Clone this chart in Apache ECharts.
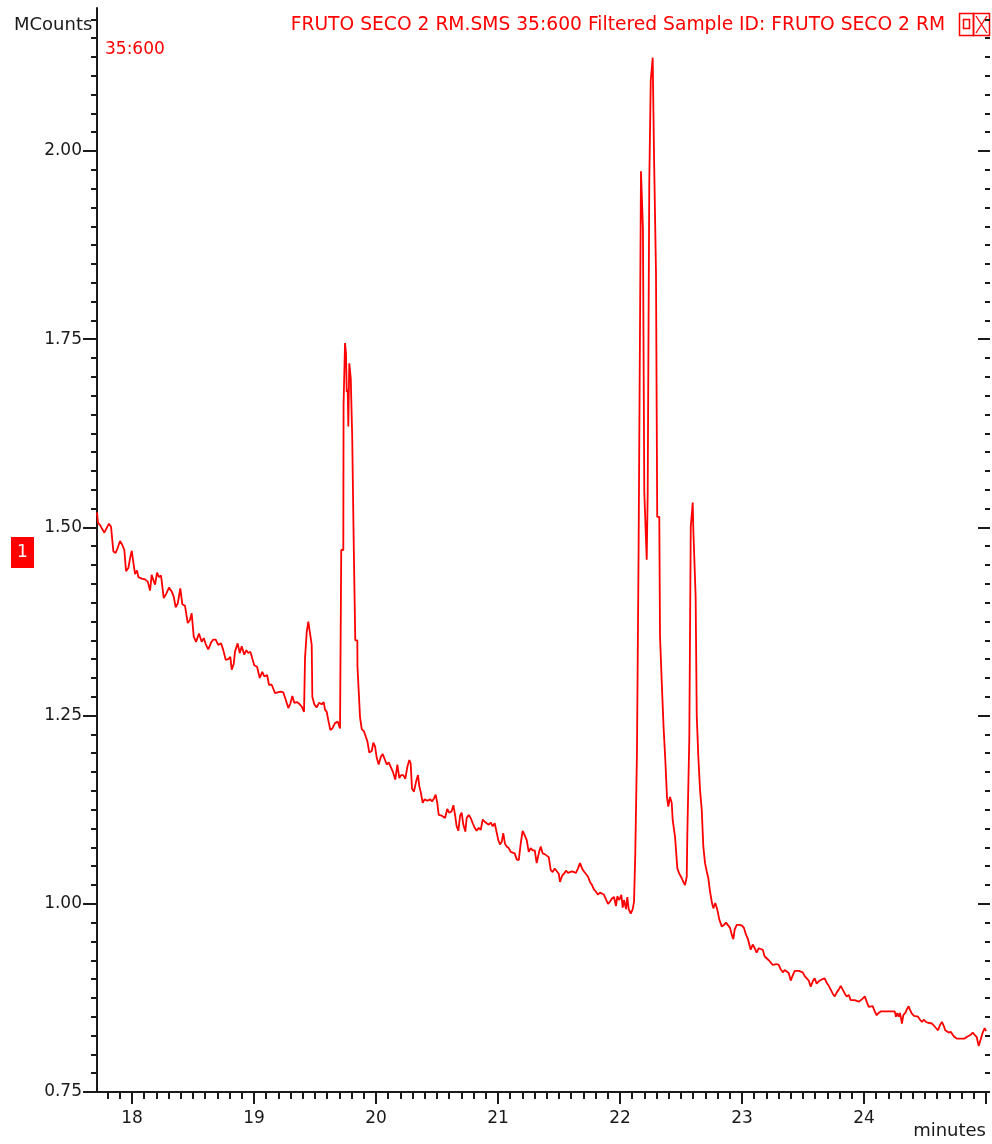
<!DOCTYPE html>
<html>
<head>
<meta charset="utf-8">
<script src="https://cdn.jsdelivr.net/npm/echarts@6/dist/echarts.min.js"></script>
<style>
  html, body { margin: 0; padding: 0; background: #ffffff; }
  #chart { width: 992px; height: 1144px; }
</style>
</head>
<body>
<div id="chart"></div>
<script>
// Retention time (minutes) of each scan
const times = [
  17.713, 17.721, 17.738, 17.773, 17.811, 17.828, 17.847, 17.866, 17.883, 17.902,
  17.920, 17.937, 17.951, 17.970, 17.984, 17.998, 18.014, 18.025, 18.041, 18.052,
  18.080, 18.107, 18.129, 18.148, 18.161, 18.175, 18.189, 18.205, 18.221, 18.238,
  18.260, 18.281, 18.303, 18.325, 18.342, 18.358, 18.375, 18.396, 18.412, 18.434,
  18.457, 18.475, 18.489, 18.506, 18.525, 18.549, 18.571, 18.588, 18.604, 18.625,
  18.648, 18.666, 18.686, 18.707, 18.730, 18.748, 18.768, 18.789, 18.806, 18.817,
  18.834, 18.844, 18.866, 18.883, 18.899, 18.920, 18.937, 18.953, 18.970, 18.986,
  19.002, 19.025, 19.047, 19.068, 19.084, 19.107, 19.123, 19.145, 19.172, 19.194,
  19.216, 19.240, 19.260, 19.281, 19.298, 19.314, 19.330, 19.352, 19.375, 19.391,
  19.410, 19.418, 19.432, 19.445, 19.453, 19.467, 19.473, 19.478, 19.494, 19.514,
  19.533, 19.555, 19.571, 19.582, 19.596, 19.609, 19.625, 19.642, 19.664, 19.686,
  19.705, 19.715, 19.732, 19.734, 19.746, 19.754, 19.760, 19.768, 19.773, 19.781,
  19.793, 19.801, 19.805, 19.814, 19.816, 19.828, 19.830, 19.847, 19.848, 19.858,
  19.860, 19.869, 19.883, 19.902, 19.918, 19.929, 19.945, 19.965, 19.978, 19.992,
  20.006, 20.022, 20.039, 20.055, 20.071, 20.088, 20.104, 20.120, 20.137, 20.158,
  20.175, 20.191, 20.207, 20.224, 20.240, 20.257, 20.273, 20.284, 20.295, 20.311,
  20.328, 20.344, 20.355, 20.366, 20.383, 20.399, 20.420, 20.443, 20.459, 20.475,
  20.489, 20.502, 20.514, 20.539, 20.566, 20.584, 20.601, 20.620, 20.634, 20.648,
  20.661, 20.675, 20.689, 20.702, 20.716, 20.732, 20.743, 20.760, 20.776, 20.793,
  20.809, 20.825, 20.842, 20.858, 20.875, 20.891, 20.907, 20.924, 20.940, 20.957,
  20.973, 20.989, 21.002, 21.016, 21.030, 21.043, 21.057, 21.071, 21.088, 21.104,
  21.120, 21.137, 21.153, 21.170, 21.186, 21.202, 21.219, 21.235, 21.252, 21.268,
  21.284, 21.301, 21.317, 21.334, 21.350, 21.366, 21.383, 21.399, 21.416, 21.432,
  21.448, 21.465, 21.481, 21.498, 21.508, 21.525, 21.541, 21.557, 21.574, 21.590,
  21.607, 21.623, 21.639, 21.656, 21.672, 21.689, 21.705, 21.721, 21.738, 21.754,
  21.770, 21.787, 21.803, 21.820, 21.836, 21.852, 21.869, 21.885, 21.902, 21.918,
  21.934, 21.951, 21.967, 21.978, 21.994, 22.011, 22.022, 22.033, 22.049, 22.060,
  22.071, 22.088, 22.104, 22.115, 22.125, 22.137, 22.139, 22.150, 22.152, 22.164,
  22.172, 22.186, 22.188, 22.197, 22.199, 22.213, 22.219, 22.227, 22.240, 22.252,
  22.268, 22.279, 22.289, 22.295, 22.301, 22.305, 22.322, 22.328, 22.340, 22.342,
  22.355, 22.357, 22.369, 22.371, 22.383, 22.385, 22.396, 22.410, 22.424, 22.432,
  22.447, 22.451, 22.466, 22.470, 22.486, 22.506, 22.519, 22.533, 22.547, 22.552,
  22.564, 22.568, 22.578, 22.580, 22.588, 22.596, 22.601, 22.617, 22.620, 22.627,
  22.629, 22.640, 22.642, 22.654, 22.656, 22.670, 22.683, 22.697, 22.711, 22.724,
  22.738, 22.754, 22.765, 22.781, 22.798, 22.814, 22.834, 22.852, 22.869, 22.885,
  22.902, 22.918, 22.929, 22.940, 22.957, 22.978, 23.000, 23.016, 23.033, 23.049,
  23.060, 23.071, 23.088, 23.104, 23.120, 23.137, 23.153, 23.170, 23.186, 23.202,
  23.219, 23.235, 23.252, 23.268, 23.284, 23.301, 23.317, 23.334, 23.350, 23.366,
  23.383, 23.399, 23.416, 23.432, 23.448, 23.465, 23.481, 23.498, 23.514, 23.530,
  23.547, 23.563, 23.580, 23.596, 23.612, 23.629, 23.645, 23.661, 23.678, 23.694,
  23.711, 23.727, 23.743, 23.760, 23.776, 23.793, 23.809, 23.825, 23.842, 23.858,
  23.875, 23.891, 23.907, 23.924, 23.940, 23.957, 23.973, 23.989, 24.006, 24.022,
  24.039, 24.055, 24.071, 24.088, 24.104, 24.120, 24.137, 24.153, 24.170, 24.186,
  24.202, 24.219, 24.235, 24.252, 24.262, 24.273, 24.284, 24.295, 24.311, 24.322,
  24.339, 24.355, 24.366, 24.377, 24.393, 24.410, 24.426, 24.443, 24.459, 24.475,
  24.492, 24.508, 24.525, 24.541, 24.557, 24.574, 24.590, 24.607, 24.623, 24.639,
  24.656, 24.666, 24.678, 24.694, 24.711, 24.727, 24.743, 24.760, 24.776, 24.793,
  24.809, 24.825, 24.842, 24.858, 24.875, 24.891, 24.907, 24.924, 24.940, 24.957,
  24.973, 24.989, 25.000
];

// Ion current of m/z 35:600 (MCounts) at each scan
const counts = [
  1.520, 1.506, 1.503, 1.493, 1.505, 1.501, 1.468, 1.466, 1.473, 1.482,
  1.477, 1.470, 1.442, 1.446, 1.459, 1.469, 1.450, 1.438, 1.443, 1.434,
  1.432, 1.431, 1.428, 1.416, 1.437, 1.430, 1.424, 1.440, 1.434, 1.436,
  1.406, 1.412, 1.420, 1.415, 1.408, 1.394, 1.399, 1.419, 1.398, 1.396,
  1.373, 1.377, 1.386, 1.355, 1.348, 1.359, 1.348, 1.353, 1.345, 1.338,
  1.347, 1.351, 1.351, 1.344, 1.346, 1.337, 1.324, 1.325, 1.328, 1.311,
  1.319, 1.335, 1.346, 1.333, 1.342, 1.331, 1.337, 1.333, 1.335, 1.326,
  1.317, 1.315, 1.300, 1.308, 1.302, 1.304, 1.291, 1.291, 1.280, 1.281,
  1.282, 1.281, 1.271, 1.260, 1.266, 1.276, 1.267, 1.268, 1.265, 1.262,
  1.255, 1.326, 1.361, 1.375, 1.366, 1.368, 1.344, 1.275, 1.265, 1.261,
  1.267, 1.265, 1.268, 1.258, 1.255, 1.244, 1.231, 1.233, 1.240, 1.242,
  1.233, 1.470, 1.470, 1.663, 1.745, 1.731, 1.680, 1.683, 1.634, 1.718,
  1.698, 1.698, 1.620, 1.618, 1.492, 1.492, 1.350, 1.350, 1.315, 1.313,
  1.277, 1.248, 1.232, 1.229, 1.227, 1.216, 1.201, 1.203, 1.214, 1.209,
  1.194, 1.185, 1.195, 1.199, 1.200, 1.185, 1.188, 1.186, 1.176, 1.165,
  1.185, 1.167, 1.171, 1.171, 1.166, 1.182, 1.191, 1.187, 1.153, 1.149,
  1.162, 1.171, 1.156, 1.149, 1.134, 1.139, 1.137, 1.139, 1.136, 1.140,
  1.145, 1.134, 1.118, 1.117, 1.114, 1.126, 1.121, 1.123, 1.131, 1.118,
  1.103, 1.097, 1.117, 1.121, 1.105, 1.096, 1.114, 1.118, 1.114, 1.107,
  1.101, 1.097, 1.101, 1.098, 1.112, 1.109, 1.108, 1.105, 1.108, 1.103,
  1.107, 1.106, 1.085, 1.079, 1.082, 1.094, 1.080, 1.076, 1.074, 1.069,
  1.067, 1.067, 1.059, 1.058, 1.080, 1.097, 1.091, 1.085, 1.069, 1.074,
  1.071, 1.071, 1.054, 1.067, 1.076, 1.067, 1.066, 1.066, 1.062, 1.045,
  1.042, 1.047, 1.047, 1.040, 1.029, 1.037, 1.040, 1.044, 1.041, 1.043,
  1.043, 1.041, 1.041, 1.047, 1.054, 1.047, 1.043, 1.041, 1.036, 1.029,
  1.025, 1.019, 1.016, 1.012, 1.015, 1.016, 1.012, 1.006, 1.000, 1.003,
  1.007, 1.009, 0.997, 1.010, 1.005, 1.012, 0.995, 1.005, 0.993, 1.009,
  0.993, 0.987, 0.993, 1.003, 1.065, 1.065, 1.201, 1.201, 1.461, 1.461,
  1.973, 1.973, 1.896, 1.896, 1.547, 1.547, 1.457, 1.545, 1.959, 2.094,
  2.124, 1.992, 1.992, 1.838, 1.838, 1.514, 1.514, 1.355, 1.355, 1.295,
  1.295, 1.235, 1.235, 1.192, 1.192, 1.142, 1.129, 1.142, 1.134, 1.111,
  1.111, 1.089, 1.089, 1.047, 1.040, 1.034, 1.029, 1.025, 1.036, 1.094,
  1.094, 1.219, 1.219, 1.501, 1.503, 1.533, 1.497, 1.497, 1.408, 1.408,
  1.250, 1.250, 1.195, 1.195, 1.151, 1.125, 1.076, 1.054, 1.043, 1.034,
  1.016, 1.001, 0.994, 1.001, 0.992, 0.979, 0.970, 0.972, 0.975, 0.977,
  0.968, 0.958, 0.953, 0.966, 0.972, 0.972, 0.971, 0.968, 0.959, 0.953,
  0.946, 0.939, 0.946, 0.941, 0.935, 0.941, 0.943, 0.939, 0.930, 0.928,
  0.925, 0.926, 0.919, 0.917, 0.920, 0.919, 0.913, 0.909, 0.912, 0.914,
  0.908, 0.898, 0.905, 0.911, 0.913, 0.911, 0.912, 0.909, 0.904, 0.905,
  0.898, 0.890, 0.897, 0.901, 0.894, 0.897, 0.899, 0.900, 0.901, 0.895,
  0.891, 0.886, 0.881, 0.877, 0.882, 0.886, 0.891, 0.889, 0.881, 0.877,
  0.879, 0.872, 0.870, 0.872, 0.870, 0.870, 0.872, 0.874, 0.877, 0.870,
  0.863, 0.861, 0.864, 0.857, 0.852, 0.855, 0.857, 0.857, 0.857, 0.857,
  0.857, 0.857, 0.855, 0.857, 0.850, 0.855, 0.850, 0.855, 0.841, 0.852,
  0.855, 0.861, 0.864, 0.859, 0.854, 0.851, 0.852, 0.850, 0.846, 0.843,
  0.846, 0.843, 0.842, 0.840, 0.841, 0.838, 0.835, 0.832, 0.839, 0.843,
  0.837, 0.832, 0.832, 0.829, 0.830, 0.826, 0.823, 0.821, 0.823, 0.821,
  0.820, 0.821, 0.823, 0.823, 0.826, 0.829, 0.827, 0.823, 0.811, 0.820,
  0.829, 0.835, 0.831
];

// Axis ticks and labels
const xMajorTicks = [18, 19, 20, 21, 22, 23, 24, 25];
const xTickLabels = [18, 19, 20, 21, 22, 23, 24];
const yMajorTicks = [0.75, 1.00, 1.25, 1.50, 1.75, 2.00];

const xMinorTicks = [];
for (let i = 178; i < 250; i++) { if (i % 10 !== 0) xMinorTicks.push(i / 10); }
const yMinorTicks = [];
for (let i = 31; i <= 87; i++) { if (i % 10 !== 0) yMinorTicks.push(i * 0.025); }

const X_MIN = 17.713, X_MAX = 25.0;
const Y_MIN = 0.75, Y_MAX = 2.19;

const FONT = 'DejaVu Sans';
const INK = '#1a1a1a';
const RED = '#ff0000';

const axisLine = { show: true, onZero: false, lineStyle: { color: INK, width: 2 } };
const tickStyle = { color: INK, width: 2 };

function xAxisDef(ticks, len, withLine, labels) {
  return {
    type: 'value', min: X_MIN, max: X_MAX, position: 'bottom', gridIndex: 0,
    axisLine: withLine ? axisLine : { show: false },
    axisTick: { show: true, customValues: ticks, length: len, lineStyle: tickStyle },
    axisLabel: labels ? {
      show: true, customValues: labels, margin: 18,
      fontFamily: FONT, fontSize: 17, color: INK
    } : { show: false },
    splitLine: { show: false }
  };
}

function yAxisDef(pos, ticks, len, inside, withLine, labels, offset) {
  return {
    type: 'value', min: Y_MIN, max: Y_MAX, position: pos, gridIndex: 0, offset: offset || 0,
    axisLine: withLine ? axisLine : { show: false },
    axisTick: { show: true, inside: inside, customValues: ticks, length: len, lineStyle: tickStyle },
    axisLabel: labels ? {
      show: true, customValues: labels, margin: 15,
      formatter: v => v.toFixed(2),
      fontFamily: FONT, fontSize: 17, color: INK
    } : { show: false },
    splitLine: { show: false }
  };
}

const chart = echarts.init(document.getElementById('chart'), null, { renderer: 'canvas' });

chart.setOption({
  animation: false,
  backgroundColor: '#ffffff',
  grid: { left: 97, right: 6, top: 8, bottom: 52, containLabel: false },
  xAxis: [
    xAxisDef(xMajorTicks, 12, true, xTickLabels),
    xAxisDef(xMinorTicks, 7, false, null)
  ],
  yAxis: [
    yAxisDef('left', yMajorTicks, 14, false, true, yMajorTicks, 0),
    yAxisDef('left', yMinorTicks, 6, false, false, null, 0),
    yAxisDef('right', yMajorTicks, 12, true, false, null, 4),
    yAxisDef('right', yMinorTicks, 5, true, false, null, 4)
  ],
  series: [{
    type: 'line',
    xAxisIndex: 0,
    yAxisIndex: 0,
    data: times.map((t, i) => [t, counts[i]]),
    showSymbol: false,
    symbol: 'none',
    clip: true,
    lineStyle: { color: RED, width: 1.8 },
    emphasis: { disabled: true }
  }],
  graphic: [
    { type: 'text', x: 14, y: 25, style: { text: 'MCounts', font: '18px "' + FONT + '"', fill: INK, align: 'left', verticalAlign: 'middle' } },
    { type: 'text', x: 945, y: 25, style: { text: 'FRUTO SECO 2 RM.SMS 35:600 Filtered Sample ID: FRUTO SECO 2 RM', font: '18.7px "' + FONT + '"', fill: RED, align: 'right', verticalAlign: 'middle' } },
    { type: 'text', x: 105, y: 50, style: { text: '35:600', font: '17px "' + FONT + '"', fill: RED, align: 'left', verticalAlign: 'middle' } },
    { type: 'text', x: 986, y: 1131, style: { text: 'minutes', font: '18px "' + FONT + '"', fill: INK, align: 'right', verticalAlign: 'middle' } },
    // trace marker
    { type: 'rect', shape: { x: 11, y: 537, width: 23, height: 31 }, style: { fill: RED } },
    { type: 'text', x: 22.5, y: 552.5, style: { text: '1', font: '17px "' + FONT + '"', fill: '#ffffff', align: 'center', verticalAlign: 'middle' } },
    // window buttons
    { type: 'rect', shape: { x: 959.5, y: 13.5, width: 14, height: 22 }, style: { fill: 'none', stroke: RED, lineWidth: 1.5 } },
    { type: 'rect', shape: { x: 973.5, y: 13.5, width: 16, height: 22 }, style: { fill: 'none', stroke: RED, lineWidth: 1.5 } },
    { type: 'rect', shape: { x: 963.5, y: 19.5, width: 6, height: 9 }, style: { fill: 'none', stroke: RED, lineWidth: 1.5 } },
    { type: 'line', shape: { x1: 976, y1: 16, x2: 987, y2: 33 }, style: { stroke: RED, lineWidth: 1.3 } },
    { type: 'line', shape: { x1: 987, y1: 16, x2: 976, y2: 33 }, style: { stroke: RED, lineWidth: 1.3 } }
  ]
});
</script>
</body>
</html>
